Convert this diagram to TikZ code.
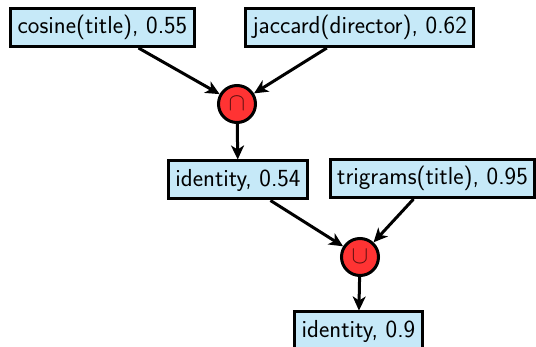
\documentclass[tikz,border=0pt]{standalone}
\usetikzlibrary{arrows.meta}
\definecolor{boxfill}{HTML}{C6E9F8}
\definecolor{opfill}{HTML}{FF3333}
\definecolor{opsym}{HTML}{5A1010}
\tikzset{
  simbox/.style={draw=black, line width=3pt, fill=boxfill, rectangle,
    inner xsep=7pt, inner ysep=0pt, minimum height=38pt,
    font=\fontsize{24.6}{28}\selectfont\sffamily},
  opnode/.style={draw=black, line width=3pt, fill=opfill, circle,
    minimum size=37pt, inner sep=0pt, text=opsym,
    font=\fontsize{23}{26}\selectfont},
  flow/.style={line width=3pt, -{Stealth[length=14pt,width=13pt,inset=4pt]}}
}
\begin{document}
\begin{tikzpicture}[x=1pt,y=-1pt]
  \useasboundingbox (0,0) rectangle (536,347);
  % top-level similarity measures
  \node[simbox] (cos) at (102.5,27.5) {cosine(title), 0.55};
  \node[simbox] (jac) at (359.7,27.5) {jaccard(director), 0.62};
  % intersection
  \node[opnode] (cap) at (237,104) {$\cap$};
  \node[simbox] (id1) at (238,180) {identity, 0.54};
  \node[simbox] (tri) at (432.5,178.5) {trigrams(title), 0.95};
  % union
  \node[opnode] (cup) at (360,257) {$\cup$};
  \node[simbox] (id2) at (358.5,331) {identity, 0.9};
  % connectors
  \draw[flow] (cos) -- (cap);
  \draw[flow] (jac) -- (cap);
  \draw[flow] (cap) -- (id1);
  \draw[flow] (id1) -- (cup);
  \draw[flow] (tri) -- (cup);
  \draw[flow] (cup) -- (id2);
\end{tikzpicture}
\end{document}
